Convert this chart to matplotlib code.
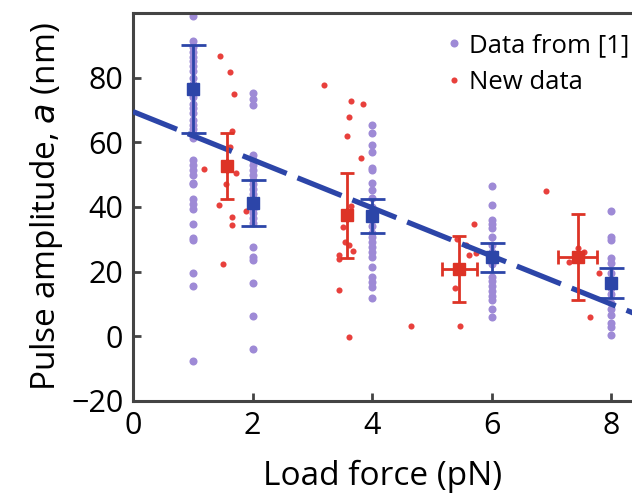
import numpy as np
import matplotlib.pyplot as plt

plt.rcParams['font.family'] = ['Open Sans', 'DejaVu Sans']

# data from [1]: purple points at fixed load forces
old_x = [1, 2, 4, 6, 8]
old_1 = [99.2, 91.3, 89.5, 88, 86.5, 85, 83.5, 82, 80, 78, 76, 74, 72, 70.5, 69, 67,
         65.5, 64, 62.5, 61.4, 54.6, 53, 51.5, 50, 47.4, 47, 42.5, 41, 39.5, 34.7,
         30.4, 29.8, 19.6, 15.5, -7.7]
old_2 = [75.3, 73.5, 71.6, 56, 54.5, 53, 51.5, 50, 48.5, 47, 45.5, 44, 42.5, 41,
         39.5, 38, 36.5, 35, 27.7, 24.5, 23.5, 16.5, 6.2, -4]
old_4 = [65.4, 63, 59.2, 57.1, 52, 51.5, 47.4, 45.3, 42.8, 40, 38, 36, 34, 32, 30.8,
         29.2, 27.5, 26, 24.6, 21.5, 18.4, 16.8, 15.3, 11.7]
old_6 = [46.6, 40.6, 36, 34.8, 33.5, 30.8, 28.2, 26, 24.4, 22.5, 18.4, 17, 15.5, 14,
         12.5, 11.2, 8.6, 6]
old_8 = [38.8, 30.8, 29.8, 24.1, 22.6, 19.5, 17.5, 15, 13, 10.2, 8.5, 6.5, 4, 2.8, 0.5]
old_vals = [old_1, old_2, old_4, old_6, old_8]

# new data: red points
new_x = [1.19, 1.44, 1.46, 1.51, 1.56, 1.62, 1.63, 1.65, 1.65, 1.65, 1.69, 1.72, 1.89,
         3.19, 3.44, 3.45, 3.45, 3.52, 3.54, 3.58, 3.61, 3.62, 3.62, 3.64, 3.65, 3.68,
         3.81, 3.85, 4.65, 5.39, 5.43, 5.47, 5.57, 5.63, 5.71, 5.74, 6.91,
         7.30, 7.44, 7.55, 7.65, 7.80]
new_y = [51.6, 40.6, 86.8, 22.5, 47, 58.7, 81.8, 63.4, 37, 34.4, 75, 50.4, 38.8,
         77.6, 14.2, 25.1, 23.8, 33.9, 29.2, 61.9, -0.1, 67.7, 28.2, 72.7, 40.4, 26.4,
         55, 71.8, 3.3, 14.8, 30, 3.3, 28.2, 25.1, 34.7, 25.8, 44.9,
         23, 27.2, 26.1, 6, 19.6]

# means with error bars
old_mean = [76.5, 41.2, 37.2, 24.4, 16.5]
old_err = [13.7, 7.1, 5.2, 4.5, 4.5]
new_mx = [1.57, 3.58, 5.46, 7.44]
new_mean = [52.7, 37.4, 20.8, 24.5]
new_yerr = [10.2, 13.2, 10.1, 13.2]
new_xerr = [0, 0, 0.29, 0.32]

# linear fit
fit_a = 69.5
fit_b = -7.44

purple = '#9e8ad6'
red = '#e8403c'
blue = '#2c45a8'
dred = '#dd3326'

fig = plt.figure(figsize=(6.32, 4.99), dpi=100)
ax = fig.add_axes([0.2104, 0.1964, 0.7896, 0.7776])

for x, vals in zip(old_x, old_vals):
    ax.plot([x] * len(vals), vals, 'o', color=purple, ms=5.8, mec='none', zorder=2)
ax.plot([], [], 'o', color=purple, ms=5.8, mec='none', label='Data from [1]')
ax.plot(new_x, new_y, 'o', color=red, ms=4.4, mec='none', zorder=3, label='New data')

xf = np.array([0, 8.6])
ax.plot(xf, fit_a + fit_b * xf, color=blue, lw=3.8, dashes=(9, 2.2), zorder=4)

ax.errorbar(old_x, old_mean, yerr=old_err, fmt='s', color=blue, ms=8, lw=2,
            capsize=9, capthick=2, zorder=5)
ax.errorbar(new_mx, new_mean, yerr=new_yerr, xerr=new_xerr, fmt='s', color=dred,
            ms=8, lw=2, capsize=5, capthick=2, zorder=5)

ax.set_xlim(0, 8.35)
ax.set_ylim(-20, 100)
ax.set_xticks([0, 2, 4, 6, 8])
ax.set_yticks([-20, 0, 20, 40, 60, 80])
ax.tick_params(direction='in', length=6, width=2, color='#444444',
               labelsize=22, pad=7)
for s in ['left', 'bottom', 'top']:
    ax.spines[s].set_linewidth(2.2)
    ax.spines[s].set_color('#444444')
ax.spines['right'].set_visible(False)

ax.set_xlabel('Load force (pN)', size=24, labelpad=14)
ax.set_ylabel('Pulse amplitude, $a$ (nm)', size=24, labelpad=4)

ax.legend(loc='upper right', frameon=False, fontsize=18.5, handletextpad=0.05,
          handlelength=1.1, borderaxespad=0.2, labelspacing=0.45,
          bbox_to_anchor=(1.026, 0.987))

fig.savefig('out.png', dpi=100)
